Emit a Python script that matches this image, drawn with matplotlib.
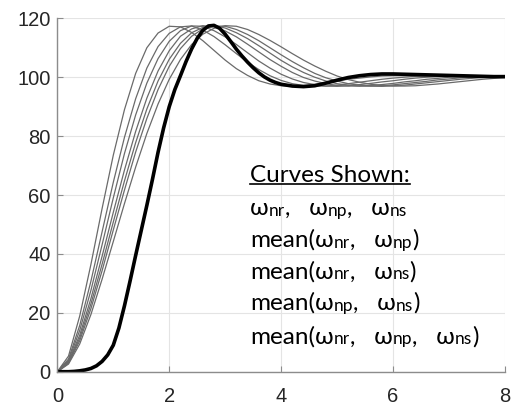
import matplotlib
matplotlib.use('Agg')
import matplotlib.pyplot as plt

plt.rcParams['font.family'] = ['Liberation Sans', 'DejaVu Sans']

# sample times (s) for the thin curves
t = [0.0, 0.2, 0.4, 0.6, 0.8, 1.0, 1.2, 1.4, 1.6, 1.8,
     2.0, 2.2, 2.4, 2.6, 2.8, 3.0, 3.2, 3.4, 3.6, 3.8,
     4.0, 4.2, 4.4, 4.6, 4.8, 5.0, 5.2, 5.4, 5.6, 5.8,
     6.0, 6.2, 6.4, 6.6, 6.8, 7.0, 7.2, 7.4, 7.6, 7.8, 8.0]

# thin curves (fastest to slowest)
thin_a = [0, 5.3, 18.9, 36.4, 55.4, 73.5, 89.0, 101.3, 110.0, 115.0,
          117.3, 117.1, 115.2, 112.4, 109.1, 105.8, 102.9, 100.6, 98.8, 97.7,
          97.1, 96.9, 97.2, 97.6, 98.2, 98.8, 99.3, 99.7, 100.1, 100.4,
          100.5, 100.5, 100.5, 100.4, 100.4, 100.3, 100.2, 100.1, 100.0, 100.0, 99.9]
thin_b = [0, 4.3, 15.7, 30.7, 47.5, 64.3, 79.6, 92.7, 103.1, 110.4,
          114.9, 117.1, 117.4, 116.0, 113.8, 111.0, 108.0, 105.1, 102.6, 100.5,
          98.9, 97.8, 97.2, 97.0, 97.0, 97.3, 97.8, 98.3, 98.8, 99.3,
          99.7, 100.0, 100.3, 100.4, 100.5, 100.5, 100.5, 100.4, 100.4, 100.3, 100.2]
thin_c = [0, 3.8, 14.0, 27.6, 43.1, 59.0, 74.1, 87.2, 98.0, 106.3,
          112.2, 115.8, 117.4, 117.3, 115.8, 113.7, 111.1, 108.3, 105.5, 103.1,
          101.0, 99.4, 98.2, 97.5, 97.0, 96.9, 97.1, 97.5, 97.9, 98.4,
          98.8, 99.3, 99.7, 100.0, 100.2, 100.4, 100.5, 100.5, 100.5, 100.5, 100.4]
thin_d = [0, 3.4, 12.4, 24.8, 39.2, 54.1, 68.5, 81.6, 92.9, 102.1,
          109.0, 113.9, 116.4, 117.5, 117.1, 115.7, 113.7, 111.2, 108.6, 106.0,
          103.7, 101.6, 99.9, 98.7, 97.8, 97.2, 97.0, 97.0, 97.2, 97.5,
          97.9, 98.4, 98.8, 99.3, 99.6, 100.0, 100.2, 100.4, 100.5, 100.5, 100.5]
thin_e = [0, 3.1, 11.4, 23.0, 36.5, 50.8, 64.8, 77.8, 89.2, 98.7,
          106.1, 111.5, 115.1, 116.9, 117.5, 116.7, 115.1, 113.1, 110.7, 108.2,
          105.7, 103.5, 101.6, 100.0, 98.7, 97.8, 97.3, 97.0, 97.0, 97.1,
          97.4, 97.8, 98.2, 98.6, 99.1, 99.4, 99.8, 100.0, 100.2, 100.4, 100.5]
thin_f = [0, 2.9, 10.5, 21.4, 34.3, 48.1, 61.7, 74.6, 86.0, 95.8,
          103.7, 109.7, 113.9, 116.4, 117.4, 117.3, 116.2, 114.5, 112.4, 110.0,
          107.6, 105.3, 103.2, 101.3, 99.8, 98.7, 97.8, 97.3, 97.0, 96.9,
          97.1, 97.3, 97.7, 98.1, 98.5, 98.9, 99.3, 99.6, 99.9, 100.1, 100.3]
thin_g = [0, 2.6, 9.4, 19.4, 31.4, 44.2, 57.1, 69.5, 80.9, 90.9,
          99.3, 106.0, 111.1, 114.6, 116.6, 117.5, 117.3, 116.2, 114.5, 112.5,
          110.3, 108.0, 105.8, 103.8, 102.0, 100.4, 99.2, 98.3, 97.6, 97.2,
          97.0, 97.0, 97.1, 97.4, 97.7, 98.1, 98.5, 98.9, 99.3, 99.6, 99.9]

# thick black curve (finer sampling up to t = 4)
t_thick = [0.0, 0.1, 0.2, 0.3, 0.4, 0.5, 0.6, 0.7, 0.8, 0.9,
           1.0, 1.1, 1.2, 1.3, 1.4, 1.5, 1.6, 1.7, 1.8, 1.9,
           2.0, 2.1, 2.2, 2.3, 2.4, 2.5, 2.6, 2.7, 2.8, 2.9,
           3.0, 3.1, 3.2, 3.3, 3.4, 3.5, 3.6, 3.7, 3.8, 3.9,
           4.0, 4.2, 4.4, 4.6, 4.8, 5.0, 5.2, 5.4, 5.6, 5.8,
           6.0, 6.2, 6.4, 6.6, 6.8, 7.0, 7.2, 7.4, 7.6, 7.8, 8.0]
thick = [0, 0.0, 0.0, 0.1, 0.3, 0.6, 1.1, 2.0, 3.5, 5.7,
         9.0, 14.8, 22.4, 30.8, 39.5, 48.0, 56.5, 65.3, 74.5, 82.8,
         90.0, 95.8, 100.5, 105.3, 109.6, 113.2, 115.9, 117.4, 117.6, 116.6,
         114.6, 112.1, 109.5, 107.2, 105.1, 103.2, 101.5, 100.1, 99.0, 98.2,
         97.6, 97.0, 96.8, 97.1, 98.0, 99.0, 99.9, 100.5, 100.9, 101.1,
         101.1, 101.0, 100.9, 100.8, 100.7, 100.6, 100.5, 100.4, 100.3, 100.2, 100.2]

x_ticks = [0, 2, 4, 6, 8]
y_ticks = [0, 20, 40, 60, 80, 100, 120]

title = "Curves Shown:"
lines = [
    [("ω", "b"), ("nr", "s"), (",   ω", "b"), ("np", "s"), (",   ω", "b"), ("ns", "s")],
    [("mean(ω", "b"), ("nr", "s"), (",   ω", "b"), ("np", "s"), (")", "b")],
    [("mean(ω", "b"), ("nr", "s"), (",   ω", "b"), ("ns", "s"), (")", "b")],
    [("mean(ω", "b"), ("np", "s"), (",   ω", "b"), ("ns", "s"), (")", "b")],
    [("mean(ω", "b"), ("nr", "s"), (",   ω", "b"), ("np", "s"), (",   ω", "b"), ("ns", "s"), (")", "b")],
]

fam = ['Lato', 'DejaVu Sans']
big, small = 17.5, 12.5

fig = plt.figure(figsize=(5.15, 4.05), dpi=100)
ax = fig.add_axes([0.1113, 0.0822, 0.8693, 0.8726])

for y in [thin_a, thin_b, thin_c, thin_d, thin_e, thin_f, thin_g]:
    ax.plot(t, y, color='#6a6a6a', lw=0.9)
ax.plot(t_thick, thick, color='black', lw=2.6)

ax.set_xlim(0, 8)
ax.set_ylim(0, 120)
ax.set_xticks(x_ticks)
ax.set_yticks(y_ticks)
ax.grid(True, color='#e4e4e4', lw=0.8)
ax.set_axisbelow(True)
for s in ['top', 'right']:
    ax.spines[s].set_visible(False)
for s in ['left', 'bottom']:
    ax.spines[s].set_color('#8c8c8c')
    ax.spines[s].set_linewidth(1.0)
ax.tick_params(direction='in', length=4, color='#8c8c8c', labelsize=14.5,
               labelcolor='#262626')
ax.tick_params(axis='x', pad=11)
ax.tick_params(axis='y', pad=5)

# annotation text block
x0 = 3.44
head = ax.text(x0, 64.5, title, fontsize=big, family=fam, va='baseline', color='black')
y_lines = [53.2, 42.4, 31.7, 21.0, 9.6]
for yl, parts in zip(y_lines, lines):
    txt = ax.text(x0, yl, parts[0][0], fontsize=big, family=fam, va='baseline')
    for s, kind in parts[1:]:
        txt = ax.annotate(s, xy=(1, 0), xycoords=txt, va='bottom', ha='left',
                          fontsize=big if kind == 'b' else small, family=fam)

# underline the heading
fig.canvas.draw()
bb = head.get_window_extent()
inv = ax.transData.inverted()
(ux0, _), (ux1, _) = inv.transform([(bb.x0, 0), (bb.x1, 0)])
ax.plot([ux0, ux1], [63.6, 63.6], color='black', lw=1.2)

fig.savefig('out.png', dpi=100)
